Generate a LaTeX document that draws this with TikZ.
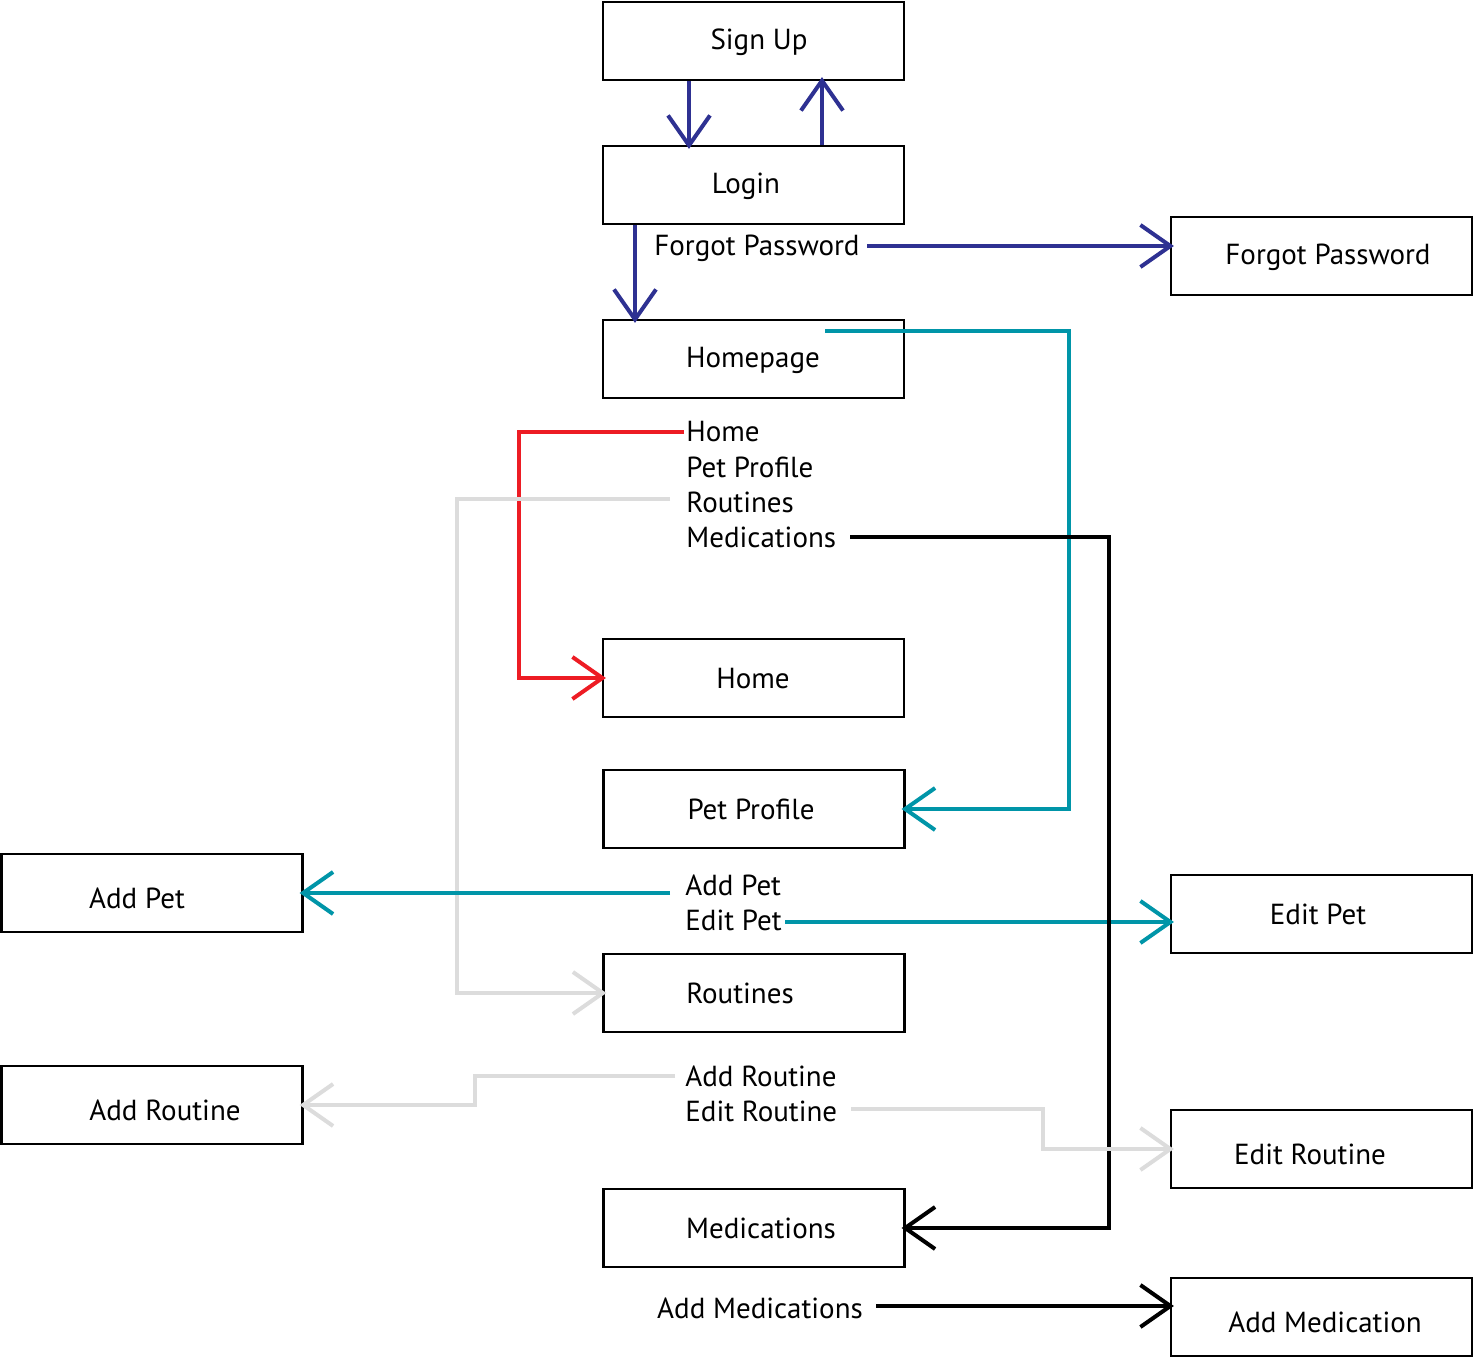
\documentclass[tikz,border=0pt]{standalone}
\usepackage{fontspec}
\setmainfont{PT Sans}
\usetikzlibrary{arrows.meta}
\definecolor{navy}{HTML}{2E3192}
\definecolor{tealc}{HTML}{0095A8}
\definecolor{redc}{HTML}{ED1C24}
\definecolor{grayc}{HTML}{DCDCDC}
\begin{document}
\begin{tikzpicture}[x=0.5pt,y=-0.5pt,
  box/.style={draw, line width=1.1pt, minimum width=150.5pt, minimum height=39pt, inner sep=0pt},
  lbl/.style={font=\fontsize{14.5}{17.5}\selectfont, inner sep=0pt},
  llbl/.style={lbl, anchor=west},
  conn/.style={line width=2pt, shorten >=-2pt, -{Straight Barb[length=15pt,width=21pt]}}]
\useasboundingbox (0,0) rectangle (1474,1358);

% boxes
\node[box] (signup) at (753.5,41) {};
\node[lbl] (tsignup) at (759,42) {Sign Up};
\node[box] (login) at (753.5,185) {};
\node[lbl] (tlogin) at (746,186) {Login};
\node[box] (forgot) at (1321.5,256) {};
\node[lbl] (tforgot) at (1328,257) {Forgot Password};
\node[box] (homepage) at (753.5,359) {};
\node[lbl] (thomepage) at (753,360) {Homepage};
\node[box] (home) at (753.5,678) {};
\node[lbl] (thome) at (753,679) {Home};
\node[box] (petprofile) at (754,809) {};
\node[lbl] (tpetprofile) at (751,809) {Pet Profile};
\node[box] (addpet) at (152,893) {};
\node[lbl] (taddpet) at (137,898) {Add Pet};
\node[box] (editpet) at (1321.5,914) {};
\node[lbl] (teditpet) at (1318,914) {Edit Pet};
\node[box] (routines) at (754,993) {};
\node[lbl] (troutines) at (740,993) {Routines};
\node[box] (addroutine) at (152,1105) {};
\node[lbl] (taddroutine) at (165,1110) {Add Routine};
\node[box] (editroutine) at (1321.5,1149) {};
\node[lbl] (teditroutine) at (1310,1154) {Edit Routine};
\node[box] (meds) at (754,1228) {};
\node[lbl] (tmeds) at (761,1228) {Medications};
\node[box] (addmed) at (1321.5,1317) {};
\node[lbl] (taddmed) at (1325,1322) {Add Medication};

% free labels
\node[lbl] (lforgot) at (757,248) {Forgot Password};
\node[llbl] (lhome) at (686,432) {Home};
\node[llbl] (lpet) at (686,467) {Pet Profile};
\node[llbl] (lrout) at (686,502) {Routines};
\node[llbl] (lmeds) at (686,537) {Medications};
\node[llbl] (laddpet) at (685,885) {Add Pet};
\node[llbl] (leditpet) at (685,920) {Edit Pet};
\node[llbl] (laddrout) at (685,1076) {Add Routine};
\node[llbl] (leditrout) at (685,1111) {Edit Routine};
\node[lbl] (laddmed) at (760,1308) {Add Medications};

% helper coordinates
\coordinate (x689) at (689,0);
\coordinate (x822) at (822,0);
\coordinate (x635) at (635,0);
\coordinate (x1069) at (1069,0);
\coordinate (x519) at (519,0);
\coordinate (x457) at (457,0);
\coordinate (x1109) at (1109,0);
\coordinate (x475) at (475,0);
\coordinate (x1043) at (1043,0);
\coordinate (sforgot) at (867,246);
\coordinate (shp) at (825,331);
\coordinate (shome) at (684,432);
\coordinate (srout) at (670,499);
\coordinate (smeds) at (850,537);
\coordinate (saddpet) at (670,893);
\coordinate (seditpet) at (785,922);
\coordinate (saddrout) at (675,1076);
\coordinate (seditrout) at (851,1109);
\coordinate (saddmed) at (876,1306);

% connectors
\draw[conn,navy] (signup.south -| x689) -- (login.north -| x689);
\draw[conn,navy] (login.north -| x822) -- (signup.south -| x822);
\draw[conn,navy] (login.south -| x635) -- (homepage.north -| x635);
\draw[conn,navy] (sforgot) -- (sforgot -| forgot.west);
\draw[conn,tealc] (shp) -- (shp -| x1069) |- (petprofile.east);
\draw[conn,redc] (shome) -- (shome -| x519) |- (home.west);
\draw[conn,grayc] (srout) -- (srout -| x457) |- (routines.west);
\draw[conn,tealc] (saddpet) -- (saddpet -| addpet.east);
\draw[conn,tealc] (seditpet) -- (seditpet -| editpet.west);
\draw[conn,black] (smeds) -- (smeds -| x1109) |- (meds.east);
\draw[conn,grayc] (saddrout) -- (saddrout -| x475) |- (addroutine.east);
\draw[conn,grayc] (seditrout) -- (seditrout -| x1043) |- (editroutine.west);
\draw[conn,black] (saddmed) -- (saddmed -| addmed.west);
\end{tikzpicture}
\end{document}
